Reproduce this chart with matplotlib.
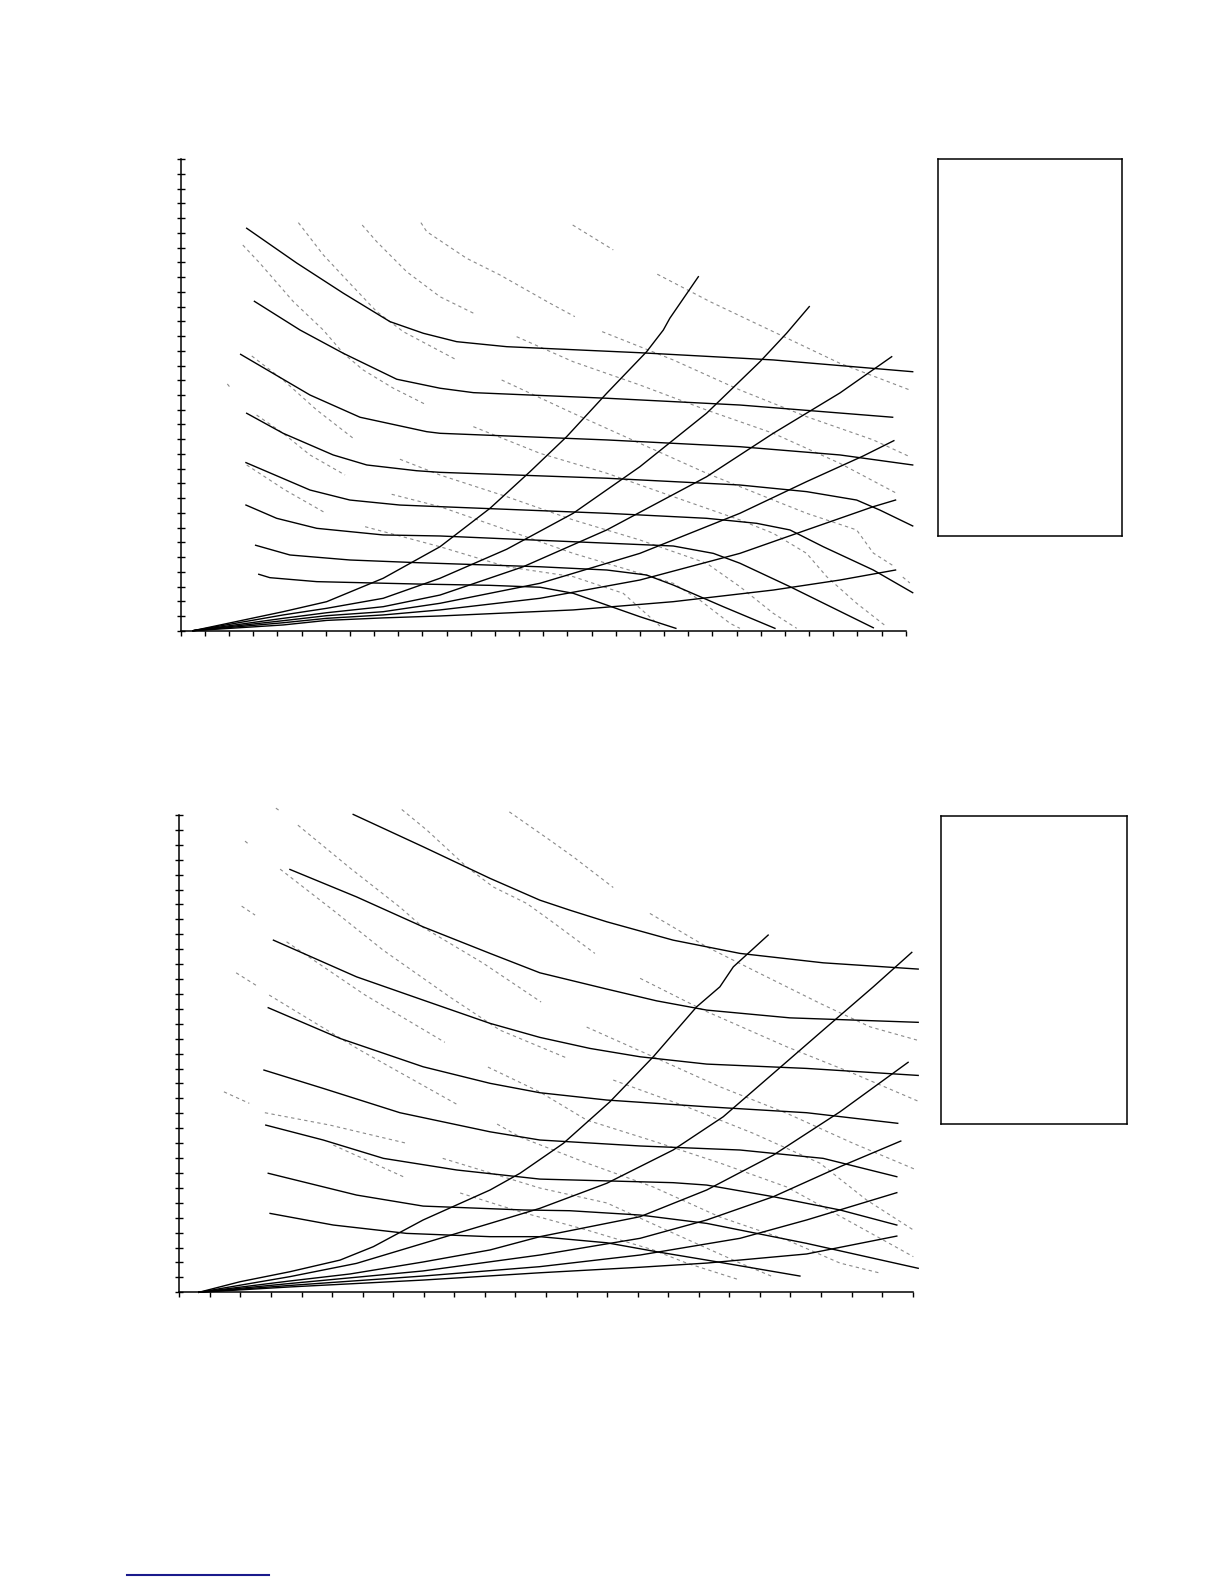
import matplotlib
matplotlib.use("Agg")
import matplotlib.pyplot as plt
from matplotlib.lines import Line2D

# ---------------------------------------------------------------
# upper chart: fan curves (solid), system curves (solid, from origin)
# and grey dashed iso-lines. units = tick counts on each axis
# ---------------------------------------------------------------
top_fan_x = [
    [2.73, 4.80, 6.73, 8.66, 10.04, 11.42, 13.49, 19.00, 24.52, 30.29],
    [3.05, 4.94, 6.73, 8.94, 10.73, 12.11, 17.63, 23.14, 29.46],
    [2.48, 5.35, 7.42, 10.18, 10.73, 17.63, 23.14, 27.28, 30.29],
    [2.73, 4.24, 6.31, 7.70, 9.76, 10.73, 17.63, 23.14, 25.90, 27.97, 28.93, 30.29],
    [2.70, 5.35, 7.00, 9.07, 10.73, 17.63, 21.76, 23.83, 25.21, 26.59, 28.66, 30.29],
    [2.70, 3.97, 5.63, 8.38, 10.73, 16.24, 20.38, 22.04, 23.14, 25.21, 28.66],
    [3.10, 4.52, 7.00, 9.76, 14.87, 17.63, 19.28, 20.38, 22.45, 24.59],
    [3.23, 3.69, 5.63, 9.76, 12.80, 14.87, 16.24, 17.63, 19.00, 20.49],
]
top_fan_y = [
    [27.32, 24.96, 22.91, 20.98, 20.19, 19.62, 19.28, 18.87, 18.38, 17.58],
    [22.36, 20.41, 18.83, 17.07, 16.46, 16.16, 15.78, 15.32, 14.49],
    [18.76, 16.00, 14.49, 13.51, 13.40, 12.95, 12.49, 11.93, 11.25],
    [14.76, 13.40, 11.93, 11.25, 10.86, 10.75, 10.35, 9.89, 9.44, 8.87, 8.19, 7.11],
    [11.41, 9.55, 8.87, 8.53, 8.42, 7.97, 7.63, 7.29, 6.84, 5.70, 4.12, 2.58],
    [8.53, 7.63, 6.95, 6.50, 6.43, 6.04, 5.75, 5.25, 4.58, 2.99, 0.20],
    [5.80, 5.14, 4.80, 4.62, 4.34, 4.12, 3.78, 3.10, 1.63, 0.16],
    [3.83, 3.60, 3.33, 3.17, 3.08, 2.95, 2.54, 1.74, 0.95, 0.16],
]

top_sys_x = [
    [0.51, 4.24, 6.04, 8.38, 10.73, 12.80, 14.45, 15.97, 17.63, 19.28, 19.97, 20.24, 21.42],
    [0.51, 4.24, 6.04, 8.38, 10.73, 13.49, 16.24, 19.00, 21.76, 23.97, 25.07, 26.01],
    [0.51, 4.24, 6.04, 8.38, 10.73, 14.17, 17.63, 21.76, 24.52, 27.28, 29.42],
    [0.51, 4.24, 6.04, 8.38, 10.73, 14.87, 19.00, 23.14, 25.90, 28.24, 29.51],
    [0.51, 4.24, 6.04, 8.38, 10.73, 14.87, 19.00, 23.14, 25.90, 28.66, 29.58],
    [0.51, 4.24, 6.04, 8.38, 10.73, 16.24, 20.38, 24.52, 27.28, 29.58],
]
top_sys_y = [
    [0.0, 1.29, 1.97, 3.56, 5.70, 8.31, 10.79, 13.17, 16.12, 18.94, 20.41, 21.21, 24.03],
    [0.0, 1.07, 1.52, 2.20, 3.56, 5.53, 7.97, 11.13, 14.76, 18.26, 20.19, 22.00],
    [0.0, 0.84, 1.22, 1.63, 2.42, 4.34, 6.84, 10.45, 13.40, 16.14, 18.60],
    [0.0, 0.68, 1.02, 1.29, 1.86, 3.22, 5.25, 7.97, 10.12, 11.86, 12.90],
    [0.0, 0.54, 0.84, 1.07, 1.41, 2.20, 3.44, 5.25, 6.84, 8.42, 8.87],
    [0.0, 0.39, 0.70, 0.87, 1.00, 1.41, 1.97, 2.76, 3.44, 4.12],
]

top_dash_x = [
    [2.57, 3.28, 4.66, 5.90, 6.73, 7.55, 8.80, 10.18],
    [4.87, 5.90, 7.00, 8.11, 9.21, 11.42],
    [7.51, 8.11, 9.35, 10.73, 12.18],
    [9.94, 10.18, 11.83, 13.21, 15.28, 16.31],
    [16.22, 17.90],
    [19.72, 21.90, 24.52, 27.28, 30.17],
    [17.44, 20.38, 23.14, 25.90, 28.66, 30.17],
    [13.90, 16.24, 19.00, 21.76, 24.52, 27.28, 29.62],
    [13.28, 16.24, 19.00, 21.76, 24.52, 25.90, 27.97, 28.66, 29.55],
    [29.88, 30.17],
    [12.11, 14.87, 17.63, 20.38, 23.14, 24.52, 25.90, 26.73, 27.97, 29.21],
    [9.07, 10.73, 13.49, 16.24, 19.00, 21.76, 23.14, 24.52, 25.49],
    [8.73, 10.73, 13.49, 16.24, 19.00, 20.38, 21.48, 22.73, 23.14],
    [7.63, 10.73, 13.49, 16.24, 18.31, 19.83],
    [2.94, 4.24, 5.63, 7.14],
    [3.14, 4.24, 5.35, 6.80],
    [2.73, 4.32, 5.97],
    [1.93, 2.07],
]
top_dash_y = [
    [26.18, 24.94, 22.34, 20.41, 18.83, 17.70, 16.46, 15.32],
    [27.70, 25.51, 23.58, 21.66, 20.30, 18.38],
    [27.54, 26.41, 24.37, 22.67, 21.50],
    [27.70, 27.09, 25.28, 24.15, 22.23, 21.32],
    [27.54, 25.85],
    [24.20, 22.34, 20.30, 18.15, 16.34],
    [20.30, 18.38, 16.34, 14.53, 12.95, 11.81],
    [19.96, 18.26, 16.68, 14.98, 13.40, 11.36, 9.33],
    [17.02, 14.76, 12.72, 10.69, 8.87, 7.97, 6.84, 5.27, 4.34],
    [3.64, 3.24],
    [13.85, 12.04, 10.69, 9.10, 7.52, 6.61, 5.25, 3.67, 1.86, 0.27],
    [11.64, 10.57, 9.10, 7.52, 6.16, 4.58, 2.99, 1.18, 0.16],
    [9.26, 8.42, 6.84, 5.25, 3.90, 3.22, 2.08, 0.50, 0.16],
    [7.06, 5.70, 4.34, 3.67, 2.54, 0.32],
    [18.65, 17.02, 14.98, 13.06],
    [14.64, 13.40, 11.93, 10.57],
    [11.25, 9.55, 8.01],
    [16.75, 16.46],
]

# ---------------------------------------------------------------
# lower chart
# ---------------------------------------------------------------
bot_fan_x = [
    [5.69, 7.98, 10.17, 11.80, 12.78, 13.99, 16.16, 18.35, 21.07, 24.18],
    [3.62, 5.80, 7.98, 10.17, 11.80, 13.99, 15.62, 17.26, 19.98, 24.18],
    [3.08, 5.80, 7.98, 10.17, 11.80, 13.44, 15.08, 17.26, 20.53, 24.18],
    [2.91, 5.26, 7.98, 10.17, 11.80, 13.99, 17.26, 20.53, 23.51],
    [2.77, 4.71, 7.22, 10.17, 11.80, 15.08, 18.35, 21.07, 23.48],
    [2.83, 4.71, 6.68, 9.08, 11.80, 16.16, 17.26, 19.44, 21.62, 23.48],
    [2.91, 5.80, 7.98, 11.26, 12.78, 15.08, 17.26, 20.53, 24.18],
    [2.97, 5.04, 7.44, 10.17, 11.80, 13.99, 15.62, 17.26, 20.31],
]
bot_fan_y = [
    [32.04, 29.87, 27.75, 26.29, 25.62, 24.84, 23.61, 22.72, 22.09, 21.67],
    [28.35, 26.51, 24.50, 22.72, 21.42, 20.33, 19.54, 18.92, 18.40, 18.10],
    [23.61, 21.15, 19.59, 18.03, 17.09, 16.35, 15.79, 15.30, 15.01, 14.54],
    [19.08, 17.02, 15.12, 14.01, 13.38, 12.89, 12.44, 12.04, 11.33],
    [14.90, 13.67, 12.04, 10.76, 10.21, 9.81, 9.54, 8.98, 7.75],
    [11.21, 10.21, 8.98, 8.20, 7.59, 7.35, 7.19, 6.41, 5.52, 4.51],
    [7.98, 6.52, 5.78, 5.52, 5.47, 5.18, 4.62, 3.28, 1.61],
    [5.29, 4.51, 3.95, 3.73, 3.73, 3.32, 2.72, 2.16, 1.09],
]

bot_sys_x = [
    [0.64, 1.99, 3.62, 5.26, 6.35, 7.98, 10.17, 11.15, 12.57, 14.09, 15.51, 16.93, 17.69, 18.13, 19.27],
    [0.64, 3.62, 5.80, 7.98, 10.17, 11.80, 13.99, 16.16, 17.80, 19.44, 21.07, 22.71, 23.97],
    [0.64, 3.62, 5.59, 7.97, 10.17, 11.80, 15.08, 17.26, 19.44, 21.62, 23.85],
    [0.64, 3.62, 7.97, 11.80, 15.08, 17.26, 19.44, 21.62, 23.61],
    [0.64, 3.62, 7.97, 11.80, 15.08, 18.35, 20.53, 23.48],
    [0.64, 3.62, 7.97, 11.80, 15.08, 17.26, 20.53, 23.48],
]
bot_sys_y = [
    [0.0, 0.71, 1.38, 2.16, 3.06, 4.85, 6.86, 7.98, 9.99, 12.77, 15.79, 19.14, 20.48, 21.82, 23.95],
    [0.0, 1.05, 1.94, 3.28, 4.62, 5.63, 7.31, 9.54, 11.77, 14.68, 17.58, 20.48, 22.79],
    [0.0, 0.76, 1.23, 2.03, 2.84, 3.73, 5.07, 6.86, 9.20, 12.10, 15.42],
    [0.0, 0.59, 1.43, 2.50, 3.62, 4.85, 6.41, 8.42, 10.14],
    [0.0, 0.46, 1.09, 1.72, 2.50, 3.62, 4.85, 6.68],
    [0.0, 0.36, 0.82, 1.31, 1.68, 1.96, 2.57, 3.77],
]

bot_dash_x = [
    [3.16, 3.30],
    [2.15, 2.31],
    [3.88, 5.59, 7.22, 7.97, 9.94, 11.84],
    [3.30, 5.03, 6.67, 8.86, 10.49, 12.69],
    [2.04, 2.48],
    [3.51, 6.08, 8.69],
    [1.86, 2.59],
    [2.94, 5.91, 9.13],
    [1.46, 2.29],
    [2.80, 4.93, 7.44],
    [5.04, 7.33],
    [7.28, 8.10, 9.40, 10.27, 11.37, 12.13, 13.60],
    [10.80, 12.13, 12.89, 14.20],
    [15.40, 17.26, 18.78, 20.97, 22.60, 24.14],
    [15.08, 17.15, 19.88, 22.05, 24.17],
    [13.33, 15.51, 17.69, 19.88, 22.05, 24.13],
    [14.20, 16.60, 18.78, 20.97, 22.49, 24.02],
    [10.10, 11.80, 13.33, 15.51, 17.69, 19.88, 22.05, 24.02],
    [10.40, 11.15, 13.33, 15.51, 17.69, 19.88, 21.62, 22.93],
    [8.62, 11.80, 13.99, 16.16, 18.35, 19.44],
    [9.19, 11.15, 13.33, 15.51, 16.60, 18.35],
]
bot_dash_y = [
    [32.46, 32.26],
    [30.25, 29.98],
    [31.32, 28.44, 25.82, 24.48, 22.07, 19.46],
    [28.37, 25.62, 22.94, 19.79, 17.58, 15.70],
    [25.89, 25.29],
    [23.50, 19.93, 16.76],
    [21.42, 20.48],
    [19.93, 16.24, 12.55],
    [13.44, 12.67],
    [12.04, 11.21, 9.99],
    [9.87, 7.75],
    [32.37, 30.99, 28.53, 27.18, 26.07, 24.95, 22.72],
    [32.21, 30.31, 29.20, 27.14],
    [25.40, 23.16, 21.60, 19.37, 17.80, 16.91],
    [21.05, 18.92, 16.46, 14.68, 12.82],
    [17.78, 15.79, 13.78, 12.00, 9.99, 8.20],
    [14.23, 12.44, 10.66, 8.65, 6.19, 4.18],
    [15.10, 13.43, 11.55, 10.14, 8.67, 7.06, 4.62, 2.39],
    [11.28, 10.41, 8.67, 7.06, 5.05, 3.51, 1.96, 1.29],
    [8.98, 6.99, 5.99, 3.97, 1.96, 1.03],
    [6.66, 5.40, 4.18, 2.84, 1.96, 0.82],
]


def draw_chart(ax, n_x, n_y, fan_x, fan_y, sys_x, sys_y, dash_x, dash_y):
    # dashed grey lines first, solid black on top
    for xs, ys in zip(dash_x, dash_y):
        ax.plot(xs, ys, color="#8a8a8a", lw=0.8, ls=(0, (3, 3)), clip_on=False)
    for xs, ys in zip(fan_x, fan_y):
        ax.plot(xs, ys, color="black", lw=1.0, clip_on=False)
    for xs, ys in zip(sys_x, sys_y):
        ax.plot(xs, ys, color="black", lw=1.0, clip_on=False)

    ax.set_xlim(0, n_x)
    ax.set_ylim(0, n_y)
    ax.set_xticks(range(n_x + 1))
    ax.set_yticks(range(n_y + 1))
    ax.set_xticklabels([])
    ax.set_yticklabels([])
    for side in ["top", "right"]:
        ax.spines[side].set_visible(False)
    for side in ["left", "bottom"]:
        ax.spines[side].set_linewidth(1.1)
    ax.tick_params(axis="y", direction="inout", length=5.5, width=1.0)
    ax.tick_params(axis="x", direction="out", length=3.5, width=1.0)
    ax.patch.set_alpha(0)


fig = plt.figure(figsize=(12.24, 15.84), dpi=100)

ax_top = fig.add_axes([0.14763, 0.60183, 0.59232, 0.29760])
draw_chart(ax_top, 30, 32, top_fan_x, top_fan_y, top_sys_x, top_sys_y,
           top_dash_x, top_dash_y)

ax_bot = fig.add_axes([0.14649, 0.18415, 0.59918, 0.30133])
draw_chart(ax_bot, 24, 32, bot_fan_x, bot_fan_y, bot_sys_x, bot_sys_y,
           bot_dash_x, bot_dash_y)

# empty legend boxes on the right
for rect in ([0.7666, 0.6616, 0.1498, 0.2378], [0.7690, 0.2904, 0.1515, 0.1943]):
    box = fig.add_axes(rect)
    box.set_xticks([])
    box.set_yticks([])
    for sp in box.spines.values():
        sp.set_linewidth(1.1)

# blue underline at the page foot
fig.add_artist(Line2D([0.1035, 0.2198], [0.00587, 0.00587],
                      transform=fig.transFigure, color="#1a1a8c", lw=1.5))

fig.savefig("out.png", dpi=100, facecolor="white")
